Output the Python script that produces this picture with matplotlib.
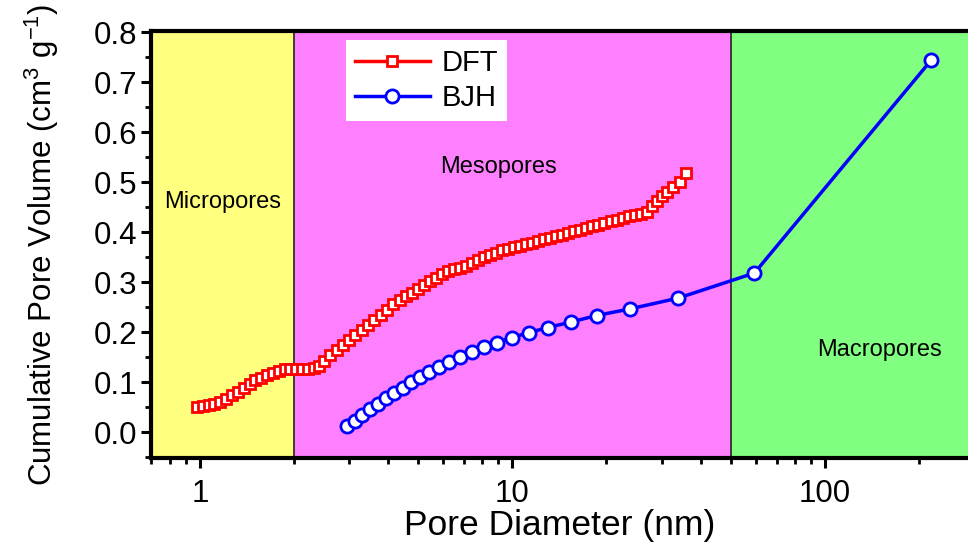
import matplotlib
matplotlib.use("Agg")
import matplotlib.pyplot as plt
from matplotlib.ticker import LogLocator, FixedLocator, NullFormatter

plt.rcParams.update({
    "font.family": ["Liberation Sans", "DejaVu Sans"],
    "mathtext.default": "regular",
})

# DFT cumulative pore volume (pore diameter nm, cm3/g)
dft_d = [0.980, 1.024, 1.067, 1.113, 1.163, 1.215, 1.268, 1.325, 1.381, 1.443,
         1.505, 1.573, 1.640, 1.714, 1.787, 1.867, 1.947, 2.035, 2.123, 2.219,
         2.312, 2.411, 2.502, 2.615, 2.743, 2.867, 2.996, 3.143, 3.297, 3.446,
         3.615, 3.793, 3.978, 4.158, 4.362, 4.559, 4.782, 4.998, 5.224, 5.460,
         5.707, 5.965, 6.235, 6.517, 6.811, 7.119, 7.441, 7.777, 8.128, 8.496,
         8.880, 9.281, 9.699, 10.14, 10.60, 11.07, 11.57, 12.05, 12.60, 13.16,
         13.76, 14.38, 15.03, 15.71, 16.48, 17.23, 18.00, 18.82, 19.67, 20.63,
         21.57, 22.54, 23.64, 24.71, 25.83, 27.00, 28.02, 29.06, 30.16, 31.28,
         32.69, 34.42, 35.97]
dft_v = [0.051, 0.052, 0.054, 0.056, 0.061, 0.067, 0.074, 0.081, 0.089, 0.097,
         0.104, 0.109, 0.115, 0.119, 0.123, 0.126, 0.127, 0.127, 0.127, 0.127,
         0.128, 0.132, 0.142, 0.154, 0.164, 0.174, 0.184, 0.194, 0.204, 0.214,
         0.224, 0.234, 0.245, 0.256, 0.264, 0.272, 0.279, 0.286, 0.294, 0.302,
         0.309, 0.316, 0.322, 0.326, 0.328, 0.333, 0.339, 0.345, 0.350, 0.355,
         0.359, 0.364, 0.367, 0.370, 0.373, 0.376, 0.379, 0.383, 0.386, 0.389,
         0.392, 0.395, 0.399, 0.402, 0.405, 0.409, 0.412, 0.415, 0.419, 0.422,
         0.425, 0.429, 0.432, 0.435, 0.437, 0.441, 0.452, 0.462, 0.472, 0.481,
         0.490, 0.501, 0.518]

# BJH cumulative pore volume
bjh_d = [2.95, 3.14, 3.31, 3.51, 3.71, 3.94, 4.18, 4.45, 4.74, 5.06, 5.40, 5.81,
         6.28, 6.81, 7.41, 8.11, 8.92, 10.0, 11.3, 13.0, 15.4, 18.6, 23.7, 34.0,
         59.5, 219.0]
bjh_v = [0.013, 0.023, 0.034, 0.046, 0.057, 0.069, 0.079, 0.089, 0.100, 0.110,
         0.121, 0.131, 0.141, 0.150, 0.160, 0.170, 0.179, 0.189, 0.199, 0.209,
         0.220, 0.233, 0.246, 0.268, 0.318, 0.744]

# pore-size regions (nm)
region_names = ["Micropores", "Mesopores", "Macropores"]
region_edges = [0.7, 2.0, 50.0, 300.0]
region_colors = ["#FFFF80", "#FF80FF", "#80FF80"]

fig = plt.figure(figsize=(9.68, 5.45), dpi=100)
ax = fig.add_axes([0.1565, 0.1596, 0.8435, 0.7835])

ax.set_xscale("log")
ax.set_xlim(0.7, 287)
ax.set_ylim(-0.052, 0.802)

for i, c in enumerate(region_colors):
    ax.axvspan(region_edges[i], region_edges[i + 1], color=c, lw=0, zorder=0)
for e in region_edges[1:3]:
    ax.axvline(e, color="#222222", lw=1.2, zorder=1)

ax.text(1.18, 0.46, region_names[0], ha="center", va="center", fontsize=17)
ax.text(10.0 ** 0.955, 0.53, region_names[1], ha="center", va="center", fontsize=17)
ax.text(150, 0.164, region_names[2], ha="center", va="center", fontsize=17)

ax.plot(dft_d, dft_v, color="red", lw=2.5, marker="s", ms=7.5,
        mfc="white", mec="red", mew=2, label="DFT", zorder=3)
ax.plot(bjh_d, bjh_v, color="blue", lw=2.5, marker="o", ms=9.5,
        mfc="white", mec="blue", mew=2, label="BJH", zorder=4)

ax.legend(loc="upper left", bbox_to_anchor=(0.238, 0.978), fontsize=21,
          frameon=True, fancybox=False, edgecolor="none", framealpha=1,
          handlelength=2.6, handletextpad=0.4, borderpad=0.3,
          labelspacing=0.25, borderaxespad=0)

ax.yaxis.set_major_locator(FixedLocator([0.0, 0.1, 0.2, 0.3, 0.4, 0.5, 0.6, 0.7, 0.8]))
ax.yaxis.set_minor_locator(FixedLocator([-0.05, 0.05, 0.15, 0.25, 0.35, 0.45, 0.55, 0.65, 0.75]))
ax.yaxis.set_major_formatter(plt.FuncFormatter(lambda v, p: f"{v:.1f}"))
ax.xaxis.set_major_locator(FixedLocator([1, 10, 100]))
ax.xaxis.set_major_formatter(plt.FuncFormatter(lambda v, p: f"{v:g}"))
ax.xaxis.set_minor_locator(LogLocator(base=10, subs=range(2, 10)))
ax.xaxis.set_minor_formatter(NullFormatter())

ax.tick_params(which="major", direction="out", length=7, width=2.2,
               labelsize=22.5, pad=3)
ax.tick_params(which="minor", direction="out", length=4, width=2)
ax.tick_params(axis="x", which="major", pad=8)

for s in ("left", "bottom", "top"):
    ax.spines[s].set_linewidth(3)
ax.spines["right"].set_visible(False)

ax.set_xlabel("Pore Diameter (nm)", fontsize=25.5, labelpad=0)
ax.set_ylabel("Cumulative Pore Volume (cm$^3$ g$^{-1}$)", fontsize=22.5, labelpad=24)

fig.savefig("out.png", dpi=100)
